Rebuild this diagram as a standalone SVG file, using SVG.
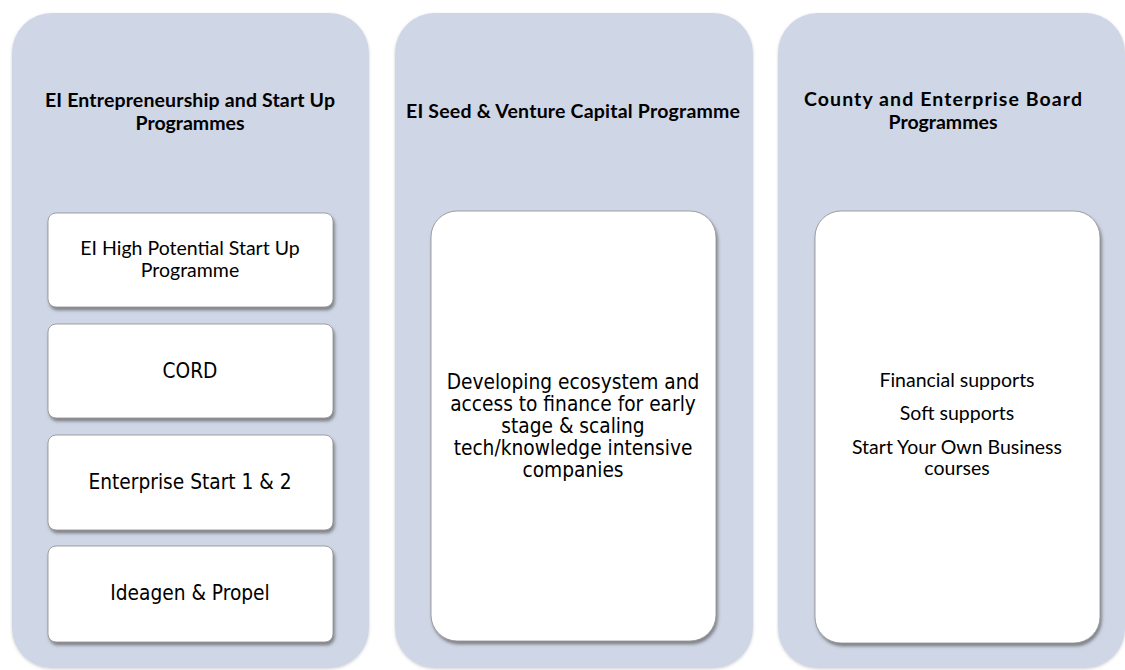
<svg xmlns="http://www.w3.org/2000/svg" width="1125" height="670" viewBox="0 0 1125 670">
  <defs>
    <filter id="boxShadow" x="-10%" y="-10%" width="125%" height="130%">
      <feDropShadow dx="1.5" dy="3" stdDeviation="1.8" flood-color="#404040" flood-opacity="0.55"/>
    </filter>
    <filter id="panelShadow" x="-5%" y="-5%" width="110%" height="110%">
      <feDropShadow dx="0" dy="1" stdDeviation="1.5" flood-color="#7a7a7a" flood-opacity="0.35"/>
    </filter>
  </defs>
  <style>
    .panel { fill: #cfd6e5; filter: url(#panelShadow); }
    .item { fill: #ffffff; stroke: #8c8c8c; stroke-width: 0.8; filter: url(#boxShadow); }
    .title { font-family: Lato, "Liberation Sans", sans-serif; font-weight: bold; font-size: 19.5px; fill: #000; text-anchor: middle; }
    .body { font-family: Lato, "Liberation Sans", sans-serif; font-size: 19.5px; fill: #000; text-anchor: middle; }
    .alt { font-family: "DejaVu Sans Condensed", "DejaVu Sans", sans-serif; font-stretch: condensed; font-size: 20.7px; fill: #000; text-anchor: middle; }
  </style>
  <rect width="1125" height="670" fill="#ffffff"/>

  <!-- Column 1: EI Entrepreneurship and Start Up -->
  <g id="col-entrepreneurship">
    <rect class="panel" x="12" y="13" width="357" height="655" rx="40"/>
    <text class="title" x="190" y="107"><tspan textLength="290" lengthAdjust="spacing">EI Entrepreneurship and Start Up</tspan><tspan x="190" dy="22.5">Programmes</tspan></text>
  </g>
  <g id="item-hpsu">
    <rect class="item" x="48" y="213" width="285" height="94" rx="8"/>
    <text class="body" x="190" y="255">EI High Potential Start Up<tspan x="190" dy="22">Programme</tspan></text>
  </g>
  <g id="item-cord">
    <rect class="item" x="48" y="324" width="285" height="94" rx="8"/>
    <text class="alt" x="190" y="378">CORD</text>
  </g>
  <g id="item-enterprise-start">
    <rect class="item" x="48" y="435" width="285" height="95" rx="8"/>
    <text class="alt" x="190" y="489">Enterprise Start 1 &amp; 2</text>
  </g>
  <g id="item-ideagen">
    <rect class="item" x="48" y="546" width="285" height="96" rx="8"/>
    <text class="alt" x="190" y="600">Ideagen &amp; Propel</text>
  </g>

  <!-- Column 2: EI Seed & Venture Capital -->
  <g id="col-seed-venture">
    <rect class="panel" x="395" y="13" width="358" height="655" rx="40"/>
    <text class="title" x="573" y="118" textLength="334" lengthAdjust="spacing">EI Seed &amp; Venture Capital Programme</text>
  </g>
  <g id="item-ecosystem">
    <rect class="item" x="431" y="211" width="285" height="430" rx="26"/>
    <text class="alt" x="573" y="389">Developing ecosystem and<tspan x="573" dy="22">access to finance for early</tspan><tspan x="573" dy="22">stage &amp; scaling</tspan><tspan x="573" dy="22">tech/knowledge intensive</tspan><tspan x="573" dy="22">companies</tspan></text>
  </g>

  <!-- Column 3: County and Enterprise Board -->
  <g id="col-county-board">
    <rect class="panel" x="778" y="13" width="347" height="655" rx="40"/>
    <text class="title" x="943" y="106"><tspan textLength="278" lengthAdjust="spacing">County and Enterprise Board</tspan><tspan x="943" dy="22.5">Programmes</tspan></text>
  </g>
  <g id="item-county-supports">
    <rect class="item" x="815" y="211" width="285" height="432" rx="26"/>
    <text class="body" x="957" y="387">Financial supports</text>
    <text class="body" x="957" y="420">Soft supports</text>
    <text class="body" x="957" y="454">Start Your Own Business<tspan x="957" dy="21">courses</tspan></text>
  </g>

  <g id="connectors"/>
</svg>
